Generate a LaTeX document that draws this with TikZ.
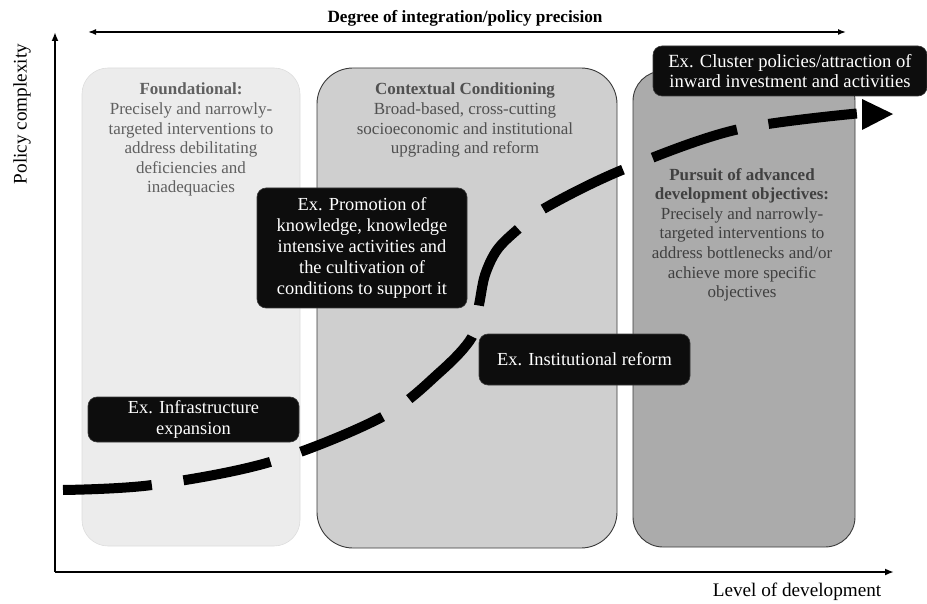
\documentclass[tikz,border=0pt]{standalone}
\usepackage{fontspec}
\setmainfont{Liberation Serif}
\usetikzlibrary{arrows.meta}
\definecolor{boxblack}{HTML}{0D0D0D}
\definecolor{foundfill}{HTML}{ECECEC}
\definecolor{foundline}{HTML}{DDDDDD}
\definecolor{contfill}{HTML}{CFCFCF}
\definecolor{pursfill}{HTML}{ABABAB}
\definecolor{boxline}{HTML}{3A3A3A}
\definecolor{ftext}{HTML}{606060}
\definecolor{ctext}{HTML}{505050}
\definecolor{ptext}{HTML}{404040}
\begin{document}
\begin{tikzpicture}[x=1pt,y=-1pt,
  gtext/.style={align=center, inner sep=0pt, anchor=north, font=\fontsize{17}{19.6}\selectfont},
  graybox/.style={rounded corners=#1, inner sep=0pt},
  blackbox/.style={fill=boxblack, draw=boxline, line width=0.6pt, rounded corners=9pt, text=white, align=center, inner sep=0pt, font=\fontsize{18.4}{21}\selectfont},
  axisline/.style={line width=1.8pt, -{Latex[length=9pt,width=7pt]}},
  toparrow/.style={line width=1.5pt, {Latex[length=8pt,width=6pt]}-{Latex[length=8pt,width=6pt]}},
  axislabel/.style={inner sep=0pt, font=\fontsize{19.2}{22}\selectfont},
  curveline/.style={line width=10pt, dash pattern=on 89pt off 32pt},
]
\useasboundingbox (0,0) rectangle (927,604);

% gray stage boxes
\node[graybox=26pt, fill=foundfill, draw=foundline, line width=0.6pt, minimum width=218pt, minimum height=478pt] (found) at (191,307) {};
\node[graybox=36pt, fill=contfill, draw=boxline, line width=0.9pt, minimum width=300pt, minimum height=480pt] (cont) at (467,308) {};
\node[graybox=30pt, fill=pursfill, draw=boxline, line width=0.9pt, minimum width=222pt, minimum height=476pt] (purs) at (744,309) {};

% texts in stage boxes
\node[gtext, text=ftext] (foundtxt) at (191,83) {\textbf{Foundational:}\\Precisely and narrowly-\\targeted interventions to\\address debilitating\\deficiencies and\\inadequacies};
\node[gtext, text=ctext] (conttxt) at (465,83) {\textbf{Contextual Conditioning}\\Broad-based, cross-cutting\\socioeconomic and institutional\\upgrading and reform};
\node[gtext, text=ptext] (purstxt) at (742,168) {\textbf{Pursuit of advanced}\\\textbf{development objectives:}\\Precisely and narrowly-\\targeted interventions to\\address bottlenecks and/or\\achieve more specific\\objectives};

% axes
\coordinate (origin) at (55,572);
\coordinate (ytop) at (55,32);
\coordinate (xend) at (894,572);
\draw[axisline] (origin) -- (ytop);
\draw[axisline] (origin) -- (xend);
\coordinate (tl) at (88,32);
\coordinate (tr) at (846,32);
\draw[toparrow] (tl) -- (tr);
\node[inner sep=0pt, font=\fontsize{17.2}{20}\selectfont\bfseries] (toplabel) at (465,18) {Degree of integration/policy precision};
\node[axislabel, rotate=90] (ylabel) at (22,114) {Policy complexity};
\node[axislabel] (xlabel) at (797,592) {Level of development};

% S-curve
\coordinate (cstart) at (63,490);
\coordinate (cend) at (862,113);
\draw[curveline] plot[smooth, tension=0.55] coordinates {(cstart) (152,485) (270,462) (382,417) (440,372) (472,337) (479,305) (485,275) (497,250) (517,230) (545,208) (622,170) (735,130) (cend)};
\fill (862,99) -- (893,114) -- (862,130) -- cycle;

% example boxes
\node[blackbox, minimum width=210pt, minimum height=120pt] (promo) at (362,248) {Ex. Promotion of\\knowledge, knowledge\\intensive activities and\\the cultivation of\\conditions to support it};
\node[blackbox, minimum width=274pt, minimum height=50pt, font=\fontsize{18.6}{20.5}\selectfont] (cluster) at (790,71) {Ex. Cluster policies/attraction of\\inward investment and activities};
\node[blackbox, minimum width=211pt, minimum height=51pt] (inst) at (584.5,359.5) {Ex. Institutional reform};
\node[blackbox, minimum width=211pt, minimum height=45pt] (infra) at (193.5,419.5) {Ex. Infrastructure\\expansion};
\end{tikzpicture}
\end{document}
